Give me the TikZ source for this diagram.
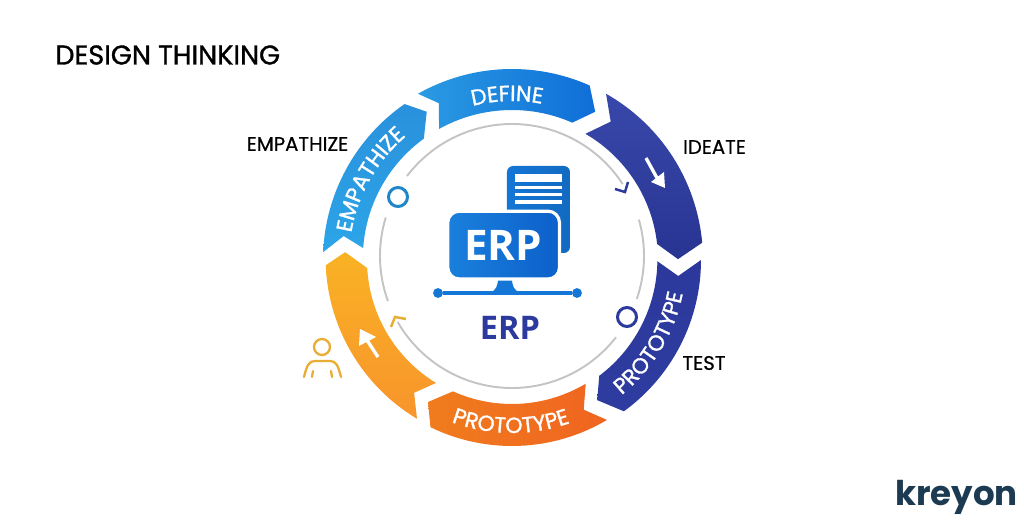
\documentclass[tikz,border=0pt]{standalone}
\usepackage{fontspec}
\usetikzlibrary{decorations.text}
\setmainfont{Poppins}
\newfontfamily\titlefont[FakeBold=1.2]{Poppins}
\newfontfamily\labelfont[FakeBold=0.6]{Poppins}
\newfontfamily\ringfont[FakeBold=1.2]{Poppins}
\newfontfamily\erpfont{Open Sans}
\definecolor{navy}{HTML}{2B3A9C}
\definecolor{gapgray}{HTML}{C4C4C4}
\definecolor{iconblue}{HTML}{1476D6}
\definecolor{personyellow}{HTML}{E9AC35}
\definecolor{logodark}{HTML}{1C3B52}
\tikzset{
  sidelabel/.style={font=\labelfont\fontsize{11.2}{13}\selectfont, text=black, inner sep=0pt},
  ringline/.style={draw=gapgray, line width=1.1pt},
  dotnode/.style={circle, fill=iconblue, minimum size=5.6pt, inner sep=0pt},
  whitearrow/.style={draw=white, line width=1.9pt}
}
\begin{document}
\begin{tikzpicture}[x=0.02cm, y=0.02cm]
    \useasboundingbox (-512,-260) rectangle (512,260);
    \node[font=\titlefont\fontsize{15.4}{17}\selectfont, anchor=west, inner sep=0pt] (title) at (-457,205) {DESIGN THINKING};
    % ring segments
    \shade [left color={rgb,255:red,42;green,155;blue,226}, right color={rgb,255:red,15;green,110;blue,216}]
        (119.5:191) arc[start angle=119.5, end angle=66, radius=191] -- (60.7:170) -- (66.3:150)
        arc[start angle=66.3, end angle=119.1, radius=150] -- (115:173) -- cycle;
    \shade [top color={rgb,255:red,56;green,72;blue,170}, bottom color={rgb,255:red,40;green,52;blue,146}]
        (60.5:191) arc[start angle=60.5, end angle=5.2, radius=191] -- (0.3:166) -- (6.3:146)
        arc[start angle=6.3, end angle=59.8, radius=146] -- (54.5:170) -- cycle;
    \shade [top color={rgb,255:red,44;green,56;blue,156}, bottom color={rgb,255:red,46;green,60;blue,160}]
        (0:189) arc[start angle=0, end angle=-54, radius=187] -- (-58.7:164) -- (-53:145)
        arc[start angle=-53, end angle=-0.8, radius=146] -- (-5.5:167) -- cycle;
    \shade [left color={rgb,255:red,240;green,124;blue,30}, right color={rgb,255:red,240;green,100;blue,32}]
        (-59.3:186) arc[start angle=-59.3, end angle=-116, radius=186] -- (239.4:165) -- (245.8:144)
        arc[start angle=245.8, end angle=300.8, radius=144] -- (-64.4:166) -- cycle;
    \shade [top color={rgb,255:red,249;green,178;blue,36}, bottom color={rgb,255:red,248;green,148;blue,44}]
        (239.1:185) arc[start angle=239.1, end angle=182.4, radius=188] -- (177.3:167) -- (183.2:145)
        arc[start angle=183.2, end angle=238.6, radius=144] -- (233.6:165) -- cycle;
    \shade [top color={rgb,255:red,42;green,145;blue,220}, bottom color={rgb,255:red,44;green,165;blue,232}]
        (177.6:189) arc[start angle=177.6, end angle=124.8, radius=190] -- (119.9:171) -- (126:150)
        arc[start angle=126, end angle=176, radius=148] -- (171.9:170) -- cycle;
    % ring texts
    \path [decorate, decoration={text along path, text align=center, text={|\ringfont\fontsize{12.5}{14}\selectfont\color{white}|EMPATHIZE}}]
        (178:163) arc[start angle=178, end angle=123, radius=163];
    \path [decorate, decoration={text along path, text align=center, text={|\ringfont\fontsize{12.5}{14}\selectfont\color{white}|DEFINE}}]
        (120:159) arc[start angle=120, end angle=63.4, radius=159];
    \path [decorate, decoration={text along path, text align=center, text={|\ringfont\fontsize{12.5}{14}\selectfont\color{white}|PROTOTYPE}}]
        (-61:174) arc[start angle=-61, end angle=-1, radius=174];
    \path [decorate, decoration={text along path, text align=center, text={|\ringfont\fontsize{12.5}{14}\selectfont\color{white}|PROTOTYPE}}]
        (240:173) arc[start angle=240, end angle=299.2, radius=173];
    % inner circle
    \draw [ringline] ([shift={(142.7:132)}]0,4) arc[start angle=142.7, end angle=33, radius=132];
    \draw [ringline] ([shift={(16:132)}]0,4) arc[start angle=16, end angle=-19, radius=132];
    \draw [ringline] ([shift={(-38:132)}]0,4) arc[start angle=-38, end angle=-150, radius=132];
    \draw [ringline] ([shift={(200:132)}]0,4) arc[start angle=200, end angle=163, radius=132];
    \draw [navy, line width=1.4pt] (103,71) -- (113,68) -- (116,78);
    \draw [personyellow, line width=1.4pt] (-121,-67) -- (-117,-57) -- (-106,-59);
    \draw [draw={rgb,255:red,31;green,134;blue,200}, fill=white, line width=1.7pt] (-114,63) circle (9.5);
    \draw [draw=navy, fill=white, line width=1.7pt] (115,-57) circle (9.5);
    % arrows on the ring
    \draw [whitearrow] (134,102) -- (145,82);
    \fill [white] (153,72) -- (139,78) -- (152,88) -- cycle;
    \draw [whitearrow] (-134,-97) -- (-144.5,-81);
    \fill [white] (-152,-69) -- (-153,-86) -- (-136,-77) -- cycle;
    % person
    \draw [personyellow, line width=1.3pt] (-190,-87) circle (8);
    \draw [personyellow, line width=1.3pt, line cap=round] (-208,-117) .. controls (-205,-105) and (-203,-101) .. (-197,-101) -- (-182,-101) .. controls (-176,-101) and (-174,-105) .. (-171,-117);
    \draw [personyellow, line width=1.3pt, line cap=round] (-199,-111) -- (-200,-117);
    \draw [personyellow, line width=1.3pt, line cap=round] (-181,-111) -- (-180,-117);
    % document and monitor
    \shade [rounded corners=3.5pt, left color=iconblue, right color=iconblue!90!black] (-5,94) rectangle (58,7);
    \fill [white] (3,86) rectangle (50,78);
    \fill [white] (3,73.5) rectangle (50,70.5);
    \fill [white] (3,66.5) rectangle (50,63.5);
    \fill [white] (3,59.5) rectangle (50,56);
    \fill [iconblue] (-14,-18) .. controls (-14,-26) and (-16,-30) .. (-22,-33) -- (8,-33) .. controls (2,-30) and (0,-26) .. (0,-18) -- cycle;
    \shade [rounded corners=6.5pt, draw=white, line width=1.8pt, left color={rgb,255:red,26;green,128;blue,220}, right color={rgb,255:red,12;green,96;blue,202}] (-64.2,48.8) rectangle (47.5,-19);
    \node [dotnode] (dotleft) at (-74,-33) {};
    \node [dotnode] (dotright) at (65,-33) {};
    \draw [iconblue, line width=2.1pt] (dotleft) -- (dotright);
    \node [font=\erpfont\bfseries\fontsize{24}{26}\selectfont, text=white, inner sep=0pt] (monitorlabel) at (-9,15) {ERP};
    \node [font=\erpfont\bfseries\fontsize{18.5}{20}\selectfont, text=navy, inner sep=0pt] (erplabel) at (-2,-68) {ERP};
    % side labels
    \node [sidelabel] (empathize) at (-214.5,116) {EMPATHIZE};
    \node [sidelabel] (ideate) at (202.5,113) {IDEATE};
    \node [sidelabel] (test) at (192,-103) {TEST};
    \node [font=\bfseries\fontsize{19.4}{21}\selectfont, text=logodark, anchor=base, inner sep=0pt] (logo) at (444.5,-245) {kreyon};
\end{tikzpicture}
\end{document}
